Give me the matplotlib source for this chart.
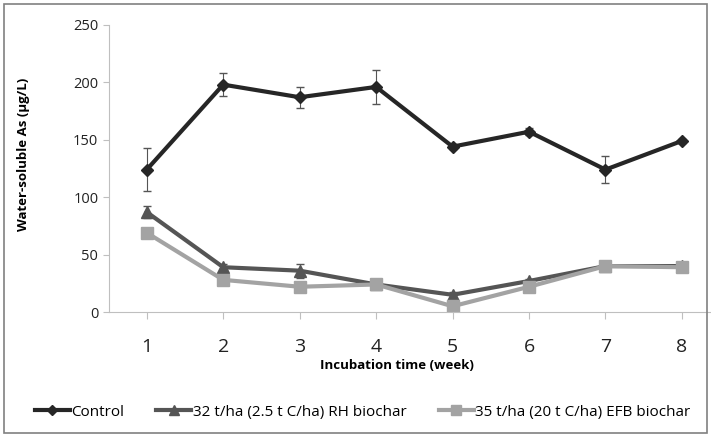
import matplotlib.pyplot as plt
from matplotlib.patches import Rectangle
from matplotlib.lines import Line2D

# weekly water-soluble As (ug/L)
weeks = [1, 2, 3, 4, 5, 6, 7, 8]
control = [124, 198, 187, 196, 144, 157, 124, 149]
control_err = [19, 10, 9, 15, 2, 3, 12, 2]
rh = [87, 39, 36, 24, 15, 27, 40, 40]
rh_err = [5, 3, 6, 2, 2, 2, 2, 2]
efb = [69, 28, 22, 24, 5, 22, 40, 39]
efb_err = [4, 3, 2, 2, 2, 2, 2, 2]
labels = ["Control", "32 t/ha (2.5 t C/ha) RH biochar", "35 t/ha (20 t C/ha) EFB biochar"]

plt.rcParams['font.family'] = ['Open Sans', 'DejaVu Sans']

fig = plt.figure(figsize=(7.11, 4.37), dpi=100)
ax = fig.add_axes([0.153, 0.286, 0.847, 0.657])

series = [
    (control, control_err, "#262626", "D", 6, labels[0]),
    (rh, rh_err, "#555555", "^", 8, labels[1]),
    (efb, efb_err, "#a3a3a3", "s", 8, labels[2]),
]
handles = []
for vals, err, col, mk, ms, lab in series:
    ax.errorbar(weeks, vals, yerr=err, color=col, marker=mk, markersize=ms,
                linewidth=3, ecolor="#555555", elinewidth=0.8, capsize=3)
    handles.append(Line2D([], [], color=col, marker=mk, markersize=ms - 1,
                          linewidth=3, label=lab))

ax.set_xlim(0.503, 8.38)
ax.set_ylim(0, 250)
ax.set_yticks([0, 50, 100, 150, 200, 250])
ax.set_xticks(weeks)
for s in ["top", "right"]:
    ax.spines[s].set_visible(False)
for s in ["left", "bottom"]:
    ax.spines[s].set_color("#bfbfbf")
ax.tick_params(axis="y", labelsize=10.5, colors="#bfbfbf", labelcolor="#222222", length=4)
ax.tick_params(axis="x", labelsize=14, colors="#bfbfbf", labelcolor="#222222", length=5, pad=14)

ax.set_ylabel("Water-soluble As (\u00b5g/L)", fontsize=9.5, fontweight="bold")
ax.yaxis.set_label_coords(-0.13, 0.55)
ax.set_xlabel("Incubation time (week)", fontsize=9.5, fontweight="bold")
ax.xaxis.set_label_coords(0.478, -0.165)

fig.legend(handles=handles, loc="center", bbox_to_anchor=(0.51, 0.057), ncol=3,
           frameon=False, fontsize=11, handlelength=2.3, columnspacing=2.1,
           handletextpad=0.1)

fig.patches.append(Rectangle((0.005, 0.01), 0.99, 0.98, transform=fig.transFigure,
                             fill=False, edgecolor="#808080", linewidth=1.2))

fig.savefig("out.png", dpi=100)
